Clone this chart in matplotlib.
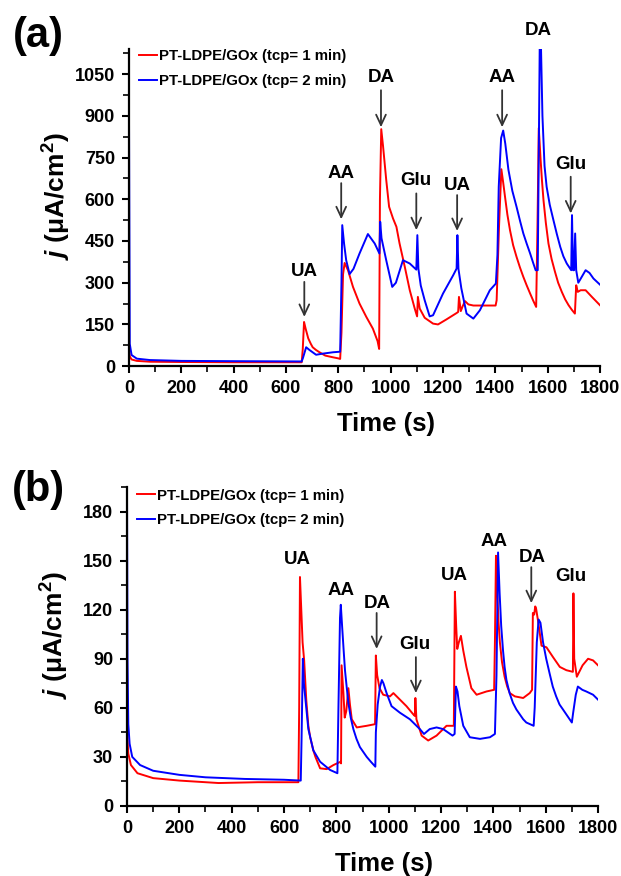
import numpy as np
import matplotlib
matplotlib.use("Agg")
import matplotlib.pyplot as plt
from matplotlib.ticker import MultipleLocator

plt.rcParams['font.family'] = ['Liberation Sans', 'DejaVu Sans']
plt.rcParams['font.weight'] = 'bold'
plt.rcParams['mathtext.fontset'] = 'custom'
plt.rcParams['mathtext.rm'] = 'Liberation Sans:bold'
plt.rcParams['mathtext.it'] = 'Liberation Sans:italic:bold'
plt.rcParams['mathtext.bf'] = 'Liberation Sans:bold'

# ---- panel (a) data: time (s) vs current density (uA/cm2) ----
a_red_t = [0, 3, 10, 30, 80, 200, 400, 600, 660, 664, 669, 675, 685, 695, 702, 715, 728, 750, 779, 800, 807,
           812, 818, 824, 837, 856, 881, 907, 932, 950, 956, 959, 964, 971, 983, 994, 1009, 1022, 1034, 1054,
           1073, 1092, 1101, 1104, 1111, 1130, 1162, 1181, 1213, 1252, 1258, 1261, 1268, 1275, 1284, 1297,
           1316, 1401, 1405, 1414, 1423, 1430, 1437, 1446, 1456, 1468, 1481, 1494, 1507, 1520, 1533, 1545,
           1556, 1561, 1566, 1573, 1578, 1584, 1593, 1603, 1615, 1628, 1640, 1654, 1667, 1680, 1692, 1704,
           1709, 1715, 1726, 1745, 1769, 1800]
a_red_j = [60, 35, 24, 19, 16, 15, 14, 14, 14, 60, 159, 135, 100, 80, 68, 58, 50, 38, 32, 28, 26,
           120, 330, 371, 345, 285, 225, 177, 135, 90, 62, 600, 852, 790, 670, 573, 531, 501, 441, 357,
           273, 207, 179, 249, 207, 174, 153, 150, 168, 191, 195, 249, 198, 215, 234, 222,
           218, 218, 237, 500, 708, 660, 609, 545, 489, 435, 393, 355, 321, 290, 261, 235,
           213, 500, 856, 742, 670, 597, 515, 441, 385, 339, 300, 267, 240, 219, 203, 189,
           291, 267, 273, 273, 249, 219]

a_blue_t = [0, 3, 10, 30, 80, 200, 400, 660, 665, 677, 690, 715, 740, 780, 807, 812, 815, 822, 830, 843,
            858, 881, 913, 939, 957, 960, 965, 983, 1006, 1020, 1047, 1073, 1098, 1102, 1106, 1115, 1130,
            1149, 1162, 1200, 1239, 1252, 1255, 1259, 1270, 1290, 1316, 1341, 1379, 1402, 1408, 1413, 1422,
            1430, 1438, 1450, 1465, 1481, 1495, 1507, 1520, 1533, 1545, 1554, 1562, 1571, 1580, 1588, 1596,
            1608, 1622, 1635, 1648, 1660, 1673, 1690, 1693, 1697, 1701, 1705, 1709, 1717, 1724, 1745, 1760,
            1775, 1800]
a_blue_j = [920, 80, 40, 27, 22, 19, 18, 17, 30, 68, 58, 41, 45, 50, 52, 300, 507, 440, 381, 331,
            350, 405, 475, 441, 405, 519, 460, 381, 285, 300, 381, 369, 347, 471, 350, 290, 237,
            179, 183, 261, 327, 351, 471, 350, 280, 189, 171, 201, 273, 297, 400, 645, 820,
            847, 800, 706, 630, 573, 520, 477, 440, 405, 370, 345, 345, 1300, 900, 720, 645,
            580, 525, 475, 429, 395, 369, 345, 543, 345, 345, 477, 345, 300, 311, 345, 335,
            315, 293]

# ---- panel (b) data ----
b_red_t = [0, 2, 5, 15, 40, 100, 200, 350, 500, 655, 658, 661, 666, 671, 677, 685, 693, 700, 712, 720,
           738, 763, 789, 816, 818, 820, 827, 832, 838, 846, 852, 859, 878, 916, 948, 951, 956, 965, 979,
           1005, 1018, 1043, 1068, 1094, 1100, 1102, 1106, 1126, 1151, 1183, 1221, 1249, 1253, 1258, 1262,
           1268, 1276, 1285, 1297, 1316, 1336, 1374, 1403, 1406, 1410, 1415, 1420, 1425, 1433, 1443, 1453,
           1463, 1482, 1514, 1539, 1548, 1551, 1556, 1560, 1563, 1571, 1584, 1603, 1628, 1654, 1679, 1704,
           1706, 1709, 1719, 1741, 1762, 1781, 1800]
b_red_j = [60, 40, 32, 25, 20, 17, 15.5, 14, 14.5, 14.5, 60, 140, 120, 100, 89, 65, 49, 42, 34, 30,
           23, 22.5, 25, 27, 26, 86, 69, 54, 58, 72, 62, 53, 48, 49, 50, 92, 80, 72, 68,
           67, 69, 65, 61, 56, 55, 66, 53, 43, 40, 43, 49, 49, 131, 110, 96,
           100, 104, 95, 85, 72, 68, 70, 71, 100, 153, 130, 112, 100, 88, 79, 73,
           69, 67, 66, 69, 71, 118, 117, 122, 121, 113, 98, 97, 91, 85, 83, 82,
           130, 90, 79, 86, 90, 89, 86]

b_blue_t = [0, 2, 5, 10, 20, 50, 100, 200, 300, 450, 600, 664, 667, 672, 676, 682, 693, 712, 738, 776,
            804, 808, 814, 817, 822, 828, 833, 840, 846, 855, 865, 877, 890, 903, 916, 932, 949, 951, 958,
            967, 974, 980, 992, 1011, 1043, 1081, 1119, 1135, 1157, 1183, 1208, 1244, 1252, 1257, 1263,
            1270, 1285, 1310, 1349, 1387, 1406, 1412, 1418, 1424, 1430, 1437, 1443, 1450, 1462, 1475, 1488,
            1501, 1514, 1526, 1540, 1554, 1558, 1566, 1573, 1580, 1590, 1602, 1615, 1627, 1640, 1653, 1666,
            1683, 1700, 1705, 1715, 1723, 1740, 1755, 1781, 1800]
b_blue_j = [195, 90, 50, 38, 30, 25, 21.5, 19, 17.5, 16.5, 16, 15.5, 40, 90, 75, 65, 47, 34, 27, 22,
            20, 60, 115, 123, 110, 95, 83, 72, 63, 54, 47, 41, 36, 33, 30, 27, 24, 45, 62,
            73, 77, 75, 69, 61, 57, 53, 47, 44, 47, 48, 47, 43, 44, 73, 70,
            61, 49, 42, 41, 42, 44, 80, 155, 130, 110, 95, 85, 77, 69, 63, 59,
            56, 53, 51, 50, 49, 60, 100, 114, 112, 100, 90, 81, 73, 67, 62, 59,
            55, 51, 57, 68, 73, 71, 70, 68, 65]

legend_labels = ['PT-LDPE/GOx (tcp= 1 min)', 'PT-LDPE/GOx (tcp= 2 min)']

# annotations: label, text position, arrow (x, tail, tip) or None
a_notes = [('UA', (670, 339), (670, 303, 177)),
           ('AA', (812, 694), (811, 658, 528)),
           ('DA', (963, 1036), (963, 992, 859)),
           ('Glu', (1098, 667), (1098, 621, 489)),
           ('UA', (1254, 651), (1254, 615, 486)),
           ('AA', (1426, 1036), (1426, 992, 859)),
           ('DA', (1563, 1208), None),
           ('Glu', (1690, 724), (1688, 681, 549))]
b_notes = [('UA', (653, 151), None),
           ('AA', (818, 132), None),
           ('DA', (955, 124), (954, 118, 96)),
           ('Glu', (1100, 99), (1104, 91, 69)),
           ('UA', (1250, 141), None),
           ('AA', (1403, 162), None),
           ('DA', (1548, 152), (1545, 146, 124)),
           ('Glu', (1697, 140), None)]


def draw_panel(ax, red_t, red_j, blue_t, blue_j, notes, ymax, ystep, leg_y):
    ax.plot(red_t, red_j, color='#ff0000', lw=1.4, label=legend_labels[0])
    ax.plot(blue_t, blue_j, color='#0000ff', lw=1.4, label=legend_labels[1])
    ax.set_xlim(0, 1800)
    ax.set_ylim(0, ymax)
    ax.xaxis.set_major_locator(MultipleLocator(200))
    ax.xaxis.set_minor_locator(MultipleLocator(100))
    ax.yaxis.set_major_locator(MultipleLocator(ystep))
    ax.yaxis.set_minor_locator(MultipleLocator(ystep / 2))
    for s in ['top', 'right']:
        ax.spines[s].set_visible(False)
    for s in ['left', 'bottom']:
        ax.spines[s].set_linewidth(1.6)
    ax.tick_params(which='major', direction='out', length=5, width=1.5, labelsize=13, pad=5)
    ax.tick_params(which='minor', direction='out', length=4, width=1.2)
    for lab in ax.get_xticklabels() + ax.get_yticklabels():
        lab.set_fontweight('bold')

    ax.set_xlabel('Time (s)', fontsize=18.5, fontweight='bold')
    ax.xaxis.set_label_coords(0.545, -0.143)
    ax.set_ylabel(r'$\mathit{j}$ (μA/cm$^\mathrm{2}$)', fontsize=19, fontweight='bold')
    ax.yaxis.set_label_coords(-0.118, 0.535)

    ax.legend(loc='upper left', bbox_to_anchor=(0.022, leg_y), frameon=False,
              borderpad=0, borderaxespad=0, handlelength=1.15, handletextpad=0.15,
              labelspacing=0.72, prop={'weight': 'bold', 'size': 10.8})

    for label, (tx, ty), arrow in notes:
        ax.text(tx, ty, label, ha='center', va='center', fontsize=13.5,
                fontweight='bold', clip_on=False)
        if arrow is not None:
            ax_x, y0, y1 = arrow
            ax.annotate('', xy=(ax_x, y1), xytext=(ax_x, y0),
                        arrowprops=dict(arrowstyle='->,head_length=0.75,head_width=0.35',
                                        color='#333333', lw=1.3, shrinkA=0, shrinkB=0))


fig = plt.figure(figsize=(6.21, 8.76), dpi=100)
ax_a = fig.add_axes([0.2077, 0.582, 0.7585, 0.362])
ax_b = fig.add_axes([0.2045, 0.080, 0.7585, 0.364])

draw_panel(ax_a, a_red_t, a_red_j, a_blue_t, a_blue_j, a_notes, 1140, 150, 1.0)
draw_panel(ax_b, b_red_t, b_red_j, b_blue_t, b_blue_j, b_notes, 195, 30, 0.995)

fig.text(38 / 621, 1 - 36 / 876, '(a)', fontsize=30, fontweight='bold', ha='center', va='center')
fig.text(38 / 621, 1 - 490 / 876, '(b)', fontsize=30, fontweight='bold', ha='center', va='center')

fig.savefig('out.png', dpi=100)
